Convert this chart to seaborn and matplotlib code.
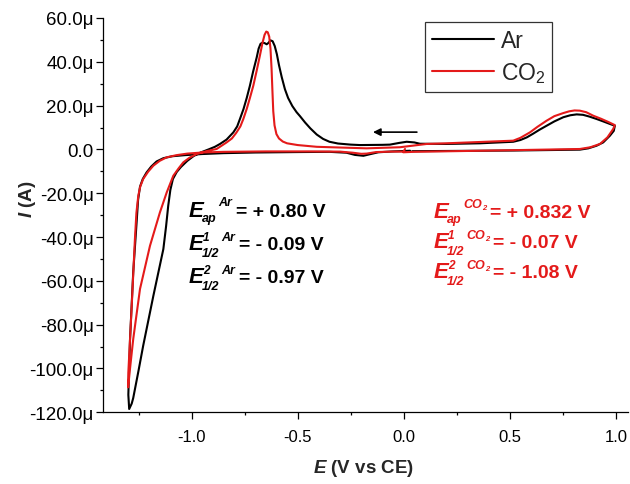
import numpy as np
import pandas as pd
import matplotlib
matplotlib.use("Agg")
import matplotlib.pyplot as plt
import seaborn as sns
from matplotlib.ticker import MultipleLocator, FuncFormatter

# ---------------- data ----------------
ar_E = [0.03, -0.05, -0.12, -0.16, -0.19, -0.23, -0.27, -0.35, -0.50, -0.70, -0.85, -0.95,
        -1.03, -1.09, -1.133, -1.165, -1.19, -1.212, -1.23, -1.243, -1.252, -1.259, -1.275,
        -1.290, -1.298, -1.294, -1.282, -1.275, -1.250, -1.228, -1.180, -1.133, -1.120, -1.110,
        -1.100, -1.088, -1.070, -1.050, -1.020, -0.990, -0.960, -0.920, -0.890, -0.866, -0.835,
        -0.803, -0.785, -0.772, -0.755, -0.740, -0.725, -0.710, -0.693, -0.684, -0.675, -0.665,
        -0.655, -0.646, -0.638, -0.628, -0.618, -0.608, -0.598, -0.588, -0.575, -0.560, -0.545,
        -0.525, -0.505, -0.489, -0.465, -0.440, -0.410, -0.380, -0.350, -0.310, -0.250, -0.206,
        -0.100, -0.065, -0.020, 0.014, 0.050, 0.076, 0.200, 0.360, 0.516, 0.550, 0.580, 0.610,
        0.640, 0.673, 0.710, 0.752, 0.785, 0.815, 0.845, 0.875, 0.909, 0.940, 0.970, 0.995,
        0.990, 0.972, 0.940, 0.909, 0.870, 0.830, 0.516, 0.200, 0.040]
ar_I = [-0.6, -0.9, -1.3, -2.2, -2.9, -2.5, -1.5, -1.1, -1.2, -1.4, -1.7, -2.1,
        -2.6, -3.1, -4.0, -5.5, -7.8, -10.5, -13.5, -17.0, -23.0, -33.3, -56.1,
        -86.6, -112.0, -118.5, -116.0, -113.5, -101.0, -89.6, -66.8, -45.5, -35.0, -25.7,
        -18.5, -13.5, -10.3, -8.0, -5.2, -3.0, -1.5, 0.0, 1.2, 2.5, 4.5,
        7.8, 10.5, 13.9, 18.5, 23.5, 29.1, 35.5, 42.0, 46.0, 48.2, 48.8,
        48.5, 48.0, 48.6, 49.8, 49.4, 47.2, 43.5, 38.5, 33.0, 27.5, 23.5,
        19.8, 17.0, 15.2, 12.3, 9.6, 6.8, 4.8, 3.5, 2.7, 2.2, 2.0,
        2.1, 2.2, 3.0, 3.5, 3.2, 2.6, 2.5, 2.8, 3.5, 4.3, 5.5, 7.2,
        9.0, 10.8, 12.8, 14.7, 15.6, 16.0, 15.8, 15.0, 13.9, 12.8, 11.7, 10.8,
        8.5, 6.3, 3.2, 1.7, 0.5, -0.1, -0.5, -0.7, -0.8]

co2_E = [0.00, -0.06, -0.13, -0.175, -0.20, -0.24, -0.30, -0.45, -0.65, -0.85, -0.95, -1.02,
         -1.07, -1.117, -1.150, -1.18, -1.205, -1.228, -1.242, -1.251, -1.260, -1.267, -1.282,
         -1.298, -1.299, -1.290, -1.275, -1.243, -1.196, -1.149, -1.117, -1.086, -1.060, -1.039,
         -1.010, -0.976, -0.930, -0.882, -0.835, -0.810, -0.790, -0.770, -0.756, -0.740, -0.725,
         -0.709, -0.693, -0.678, -0.666, -0.656, -0.648, -0.641, -0.634, -0.628, -0.623, -0.619,
         -0.615, -0.609, -0.600, -0.588, -0.570, -0.550, -0.500, -0.410, -0.175, -0.018, 0.108,
         0.202, 0.516, 0.550, 0.595, 0.630, 0.673, 0.710, 0.752, 0.780, 0.805, 0.830, 0.860,
         0.893, 0.930, 0.965, 0.995, 0.987, 0.960, 0.925, 0.880, 0.830, 0.360, 0.045, -0.002, 0.006]
co2_I = [-1.0, -1.0, -1.2, -1.9, -2.0, -1.5, -1.0, -0.9, -0.9, -1.1, -1.4, -1.9,
         -2.6, -3.6, -5.2, -7.4, -10.2, -13.5, -17.0, -21.1, -29.0, -40.9, -71.4,
         -101.8, -108.6, -100.0, -86.6, -63.7, -44.0, -28.7, -19.6, -12.0, -8.5, -5.9,
         -3.8, -2.1, -0.8, 0.2, 3.2, 5.0, 7.5, 10.5, 13.9, 18.5, 23.5,
         29.1, 36.0, 42.8, 48.5, 52.3, 53.8, 53.5, 51.5, 46.0, 37.0, 27.0,
         17.5, 11.0, 7.0, 5.0, 3.6, 2.8, 2.0, 1.2, 0.5, 1.0, 2.5,
         2.8, 4.0, 5.3, 7.8, 10.3, 13.1, 15.2, 16.6, 17.4, 17.8, 17.7, 17.0,
         15.4, 14.0, 12.5, 11.1, 9.3, 5.5, 2.5, 1.0, 0.2, -0.6, -1.1, -1.3, 0.2]

series_names = ["Ar", "CO$_2$"]
y_ticks = [-120, -100, -80, -60, -40, -20, 0, 20, 40, 60]
x_ticks = [-1.0, -0.5, 0.0, 0.5, 1.0]

ar_labels = [("", "ap", "Ar", "= + 0.80 V"),
             ("1", "1/2", "Ar", "= - 0.09 V"),
             ("2", "1/2", "Ar", "= - 0.97 V")]
co2_labels = [("", "ap", "CO2", "= + 0.832 V"),
              ("1", "1/2", "CO2", "= - 0.07 V"),
              ("2", "1/2", "CO2", "= - 1.08 V")]

# ---------------- style ----------------
sns.set_style("ticks")
plt.rcParams["font.family"] = ["Liberation Sans", "DejaVu Sans"]
plt.rcParams["mathtext.fontset"] = "custom"
plt.rcParams["mathtext.rm"] = "Liberation Sans"
plt.rcParams["mathtext.it"] = "Liberation Sans:italic:bold"
plt.rcParams["mathtext.bf"] = "Liberation Sans:bold"

BLACK = "#000000"
RED = "#e41a1a"

W, H = 630, 485
fig = plt.figure(figsize=(W / 100, H / 100), dpi=100)
fig.patch.set_facecolor("white")
ax = fig.add_axes([103.3 / W, 1 - 413.3 / H, (628 - 103.3) / W, (413.3 - 19) / H])

df = pd.concat([
    pd.DataFrame({"E": ar_E, "I": ar_I, "gas": series_names[0]}),
    pd.DataFrame({"E": co2_E, "I": co2_I, "gas": series_names[1]}),
], ignore_index=True)

sns.lineplot(data=df, x="E", y="I", hue="gas", palette=[BLACK, RED],
             sort=False, estimator=None, ax=ax, linewidth=1.5)
for ln in ax.get_lines():
    ln.set_solid_joinstyle("round")

ax.set_xlim(-1.416, 1.057)
ax.set_ylim(-120, 60)
ax.set_xticks(x_ticks)
ax.set_yticks(y_ticks)
ax.xaxis.set_minor_locator(MultipleLocator(0.25))
ax.yaxis.set_minor_locator(MultipleLocator(10))
ax.xaxis.set_major_formatter(FuncFormatter(lambda v, p: f"{v:.1f}"))
ax.yaxis.set_major_formatter(FuncFormatter(lambda v, p: "0.0" if abs(v) < 1e-9 else f"{v:.1f}\u03bc"))
for s in ["top", "right"]:
    ax.spines[s].set_visible(False)
for s in ["left", "bottom"]:
    ax.spines[s].set_linewidth(0.9)
    ax.spines[s].set_color("black")
ax.tick_params(axis="both", which="major", direction="out", length=5, width=0.9, colors="black")
ax.tick_params(axis="both", which="minor", direction="out", length=2.5, width=0.9, colors="black")
ax.tick_params(axis="x", which="major", labelsize=12, pad=7)
ax.tick_params(axis="y", which="major", labelsize=13.5, pad=2)
ax.set_xlabel("")
ax.set_ylabel("")

fig.text(364 / W, 1 - 469 / H, r"$E$ (V vs CE)", fontsize=13.5, fontweight="bold",
         ha="center", va="center")
fig.text(27 / W, 1 - 199 / H, r"$I$ (A)", fontsize=13.5, fontweight="bold",
         ha="center", va="center", rotation=90)

# legend
h, l = ax.get_legend_handles_labels()
leg = ax.legend(h, series_names, loc="upper left",
                bbox_to_anchor=(425 / W, 1 - 23.3 / H), bbox_transform=fig.transFigure,
                fontsize=16.5, frameon=True, fancybox=False, borderpad=0.3,
                handlelength=2.7, handletextpad=0.3, labelspacing=0.35, borderaxespad=0)
leg.get_frame().set_edgecolor("black")
leg.get_frame().set_linewidth(0.9)
for ln in leg.get_lines():
    ln.set_linewidth(1.5)

# arrow showing scan direction
ax.annotate("", xy=(-0.145, 7.9), xytext=(0.062, 7.9),
            arrowprops=dict(arrowstyle="-|>", color="black", lw=1.2, mutation_scale=11,
                            shrinkA=0, shrinkB=0))

# ---------------- annotations ----------------
R = fig.canvas.get_renderer()


def put(x, y, s, size, italic, color):
    t = fig.text(x / W, 1 - y / H, s, fontsize=size, fontweight="bold",
                 fontstyle="italic" if italic else "normal", color=color,
                 ha="left", va="baseline")
    return t.get_window_extent(R).width


def expr(x, y, sup1, sub, sup, val, color):
    w = put(x, y, "E", 16, True, color)
    xs = x + w - 1
    w1 = put(xs + 1, y - 9, sup1, 8.5, True, color) if sup1 else 0
    w2 = put(xs, y + (7 if sup1 else 5), sub, 9, True, color)
    xa = xs + max(w1, w2) + 1.5
    if sup == "Ar":
        w3 = put(xa, y - (9 if sup1 else 11.5), "Ar", 9, True, color)
    else:
        wa = put(xa, y - (9 if sup1 else 10.5), "CO", 9, True, color)
        wb = put(xa + wa, y - (7 if sup1 else 8.5), "2", 5.5, True, color)
        w3 = wa + wb
    put(xa + w3 + 4, y, val, 14, False, color)


for (s1, sb, sp, val), yb in zip(ar_labels, [217, 250, 283]):
    expr(188.3, yb, s1, sb, sp, val, BLACK)
for (s1, sb, sp, val), yb in zip(co2_labels, [218, 248, 278]):
    expr(433.3, yb, s1, sb, sp, val, RED)

fig.savefig("out.png", dpi=100)
